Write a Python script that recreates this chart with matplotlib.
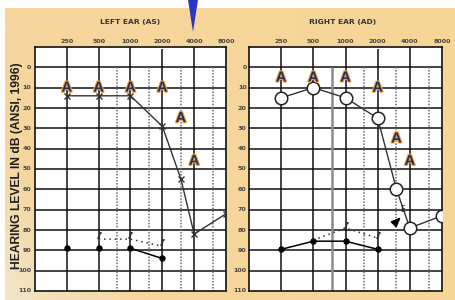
import numpy as np
import matplotlib
matplotlib.use("Agg")
import matplotlib.pyplot as plt
import matplotlib.patheffects as pe
from matplotlib.patches import Polygon

# ---------------- data ----------------
freq_ticks = [250, 500, 1000, 2000, 4000, 8000]
freq_labels = ["250", "500", "1000", "2000", "4000", "8000"]
half_octaves = [750, 1500, 3000, 6000]
db_ticks = [0, 10, 20, 30, 40, 50, 60, 70, 80, 90, 100, 110]

# Left ear (AS)
left_A_freq = [250, 500, 1000, 2000, 3000, 4000]
left_A_db = [10, 10, 10, 10, 25, 46]
left_air_freq = [250, 500, 1000, 2000, 3000, 4000, 8000]
left_air_db = [14, 14, 14, 29, 55, 82, 72]
left_bone_freq = [250, 500, 1000, 2000]
left_bone_db = [89, 89, 89, 94]
left_mbone_freq = [500, 1000, 2000]
left_mbone_db = [84.5, 84.5, 88]

# Right ear (AD)
right_A_freq = [250, 500, 1000, 2000, 3000, 4000]
right_A_db = [5, 5, 5, 10, 35, 46]
right_air_freq = [250, 500, 1000, 2000, 3000, 4000, 8000]
right_air_db = [15, 10, 15, 25, 60, 79, 73]
right_bone_freq = [250, 500, 1000, 2000]
right_bone_db = [89.5, 85.5, 85.5, 89.5]
right_mbone_freq = [500, 1000, 2000]
right_mbone_db = [85, 79, 84]
right_extra_tri = (2900, 76)
right_extra_e = (3400, 70)

W, H = 455, 300
fig = plt.figure(figsize=(W / 100, H / 100), dpi=100)
fig.patch.set_facecolor("white")

# background gradient (tan panel)
bg = fig.add_axes([5 / W, 0, 1 - 5 / W, 1 - 8 / H], zorder=-10)
ny, nx = 100, 150
yy, xx = np.mgrid[0:1:ny * 1j, 0:1:nx * 1j]
base = np.array([246, 214, 158]) / 255.0
light = np.array([243, 230, 205]) / 255.0
sheen = np.clip(1.0 - (xx * 1.6 + (1 - yy) * 1.1) / 0.55, 0, 1) * 0.9
img = base[None, None, :] * (1 - sheen[..., None]) + light[None, None, :] * sheen[..., None]
img[..., 2] = img[..., 2] - 0.03 * xx
bg.imshow(np.clip(img, 0, 1), aspect="auto", extent=[0, 1, 0, 1], origin="upper")
bg.axis("off")

# blue wedge marker at top
wedge = Polygon([[188 / W, 1.0], [198 / W, 1.0], [193 / W, 1 - 32 / H]],
                closed=True, transform=fig.transFigure, facecolor="#2b36c4",
                edgecolor="none", zorder=5)
fig.patches.append(wedge)

A_effects = [pe.Stroke(linewidth=1.6, foreground="#f0a236"), pe.Normal()]


def setup(ax, solid750=False):
    ax.set_facecolor("white")
    ax.set_xscale("log", base=2)
    ax.set_xlim(125, 8000)
    ax.set_ylim(110, -10)
    ax.set_xticks([])
    ax.set_yticks([])
    ax.minorticks_off()
    for s in ax.spines.values():
        s.set_linewidth(1.2)
        s.set_color("#111111")
    ax.hlines(db_ticks[:-1], 125, 8000, color="#111111", lw=1.1, zorder=1)
    for f in freq_ticks[:-1]:
        top = -9.2 if f == 2000 else -10
        ax.vlines(f, top, 110, color="#111111", lw=1.1, zorder=1)
    for f in half_octaves:
        if solid750 and f == 750:
            ax.vlines(f, 0, 110, color="#8a8a8a", lw=1.8, zorder=1)
        else:
            ax.vlines(f, 0, 110, color="#6a6a6a", lw=1.1,
                      linestyles=(0, (1, 1)), zorder=1)
    for f, lab in zip(freq_ticks, freq_labels):
        ax.text(f, -11.3, lab, ha="center", va="bottom", fontsize=4.6,
                fontweight="bold", color="#444444", clip_on=False)


axL = fig.add_axes([35 / W, 1 - 291 / H, 191 / W, 244 / H])
axR = fig.add_axes([249 / W, 1 - 291 / H, 193 / W, 244 / H])
setup(axL)
setup(axR, solid750=True)

for ax, xlab in ((axL, -0.02), (axR, -0.012)):
    for d in db_ticks:
        ax.text(xlab, d, str(d), transform=ax.get_yaxis_transform(),
                ha="right", va="center", fontsize=4.6, fontweight="bold",
                color="#444444", clip_on=False)

tri_marker = [(1.0, 1.0), (-1.0, 0.15), (0.15, -1.0), (1.0, 1.0)]

# ---- left ear ----
axL.plot(left_air_freq, left_air_db, color="#333333", lw=1.0, marker="x",
         ms=5, mew=1.0, zorder=4)
axL.plot(left_bone_freq, left_bone_db, ls="none", marker="o", ms=3.6,
         color="black", zorder=5)
axL.plot(left_bone_freq[2:], left_bone_db[2:], color="black", lw=1.1, zorder=4)
axL.plot(left_mbone_freq, left_mbone_db, color="#333333", lw=1.1,
         ls=(0, (1, 2.5)), zorder=4)
axL.plot(left_mbone_freq, np.array(left_mbone_db) - 2, ls="none",
         marker="$ʃ$", ms=4, color="#333333", zorder=5)
for f, d in zip(left_A_freq, left_A_db):
    axL.text(f, d, "A", ha="center", va="center", fontsize=10.5,
             fontweight="bold", family="Liberation Sans", color="#1f2c66",
             path_effects=A_effects, zorder=6)

# ---- right ear ----
axR.plot(right_air_freq, right_air_db, color="#333333", lw=1.0, marker="o",
         ms=9, mfc="white", mec="#222222", mew=1.1, zorder=4)
axR.plot(right_bone_freq, right_bone_db, color="black", lw=1.1, marker="o",
         ms=3.6, zorder=5)
axR.plot(right_mbone_freq, right_mbone_db, color="#333333", lw=1.1,
         ls=(0, (1, 2.5)), zorder=4)
axR.plot(right_mbone_freq[1:], np.array(right_mbone_db[1:]) - 1.5, ls="none",
         marker="$ʃ$", ms=4, color="#333333", zorder=5)
axR.plot([right_extra_tri[0]], [right_extra_tri[1]], marker=tri_marker,
         ms=6, color="black", zorder=6)
axR.text(right_extra_e[0], right_extra_e[1], "E", ha="center", va="center",
         fontsize=5.5, color="#222222", zorder=6)
for f, d in zip(right_A_freq, right_A_db):
    axR.text(f, d, "A", ha="center", va="center", fontsize=10.5,
             fontweight="bold", family="Liberation Sans", color="#1f2c66",
             path_effects=A_effects, zorder=6)

# titles
fig.text(130 / W, 1 - 22 / H, "LEFT EAR (AS)", ha="center", va="center",
         fontsize=5.4, fontweight="bold", color="#333333")
fig.text(343 / W, 1 - 22 / H, "RIGHT EAR (AD)", ha="center", va="center",
         fontsize=5.4, fontweight="bold", color="#333333")
fig.text(17 / W, 1 - 166 / H, "HEARING LEVEL IN dB (ANSI, 1996)",
         rotation=90, ha="center", va="center", fontsize=8.7,
         fontweight="bold", family="Liberation Sans", color="#1e1e1e")

fig.savefig("out.png", dpi=100)
